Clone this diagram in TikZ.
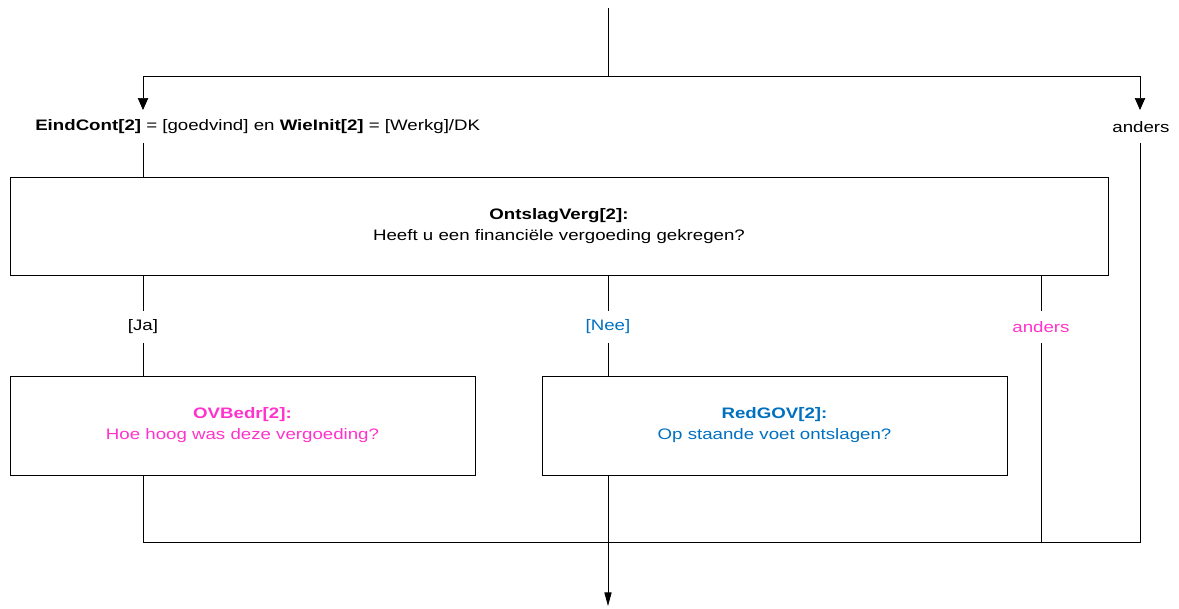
\documentclass[tikz,border=0pt]{standalone}
\usepackage{fontspec}
\setmainfont{Liberation Sans}[FakeStretch=1.23]
\usetikzlibrary{arrows.meta, positioning, calc}
\definecolor{askpink}{HTML}{FF33CC}
\definecolor{askblue}{HTML}{0070C0}

\begin{document}
\begin{tikzpicture}[
  x=0.025cm, y=-0.025cm,
  >={Triangle[length=3mm, width=2.6mm]},
  every node/.style={font=\fontsize{10.8}{15}\selectfont},
  qbox/.style={draw, line width=0.6pt, align=center, inner sep=0pt},
  lbl/.style={inner sep=0pt, minimum height=0.8cm},
  wire/.style={line width=0.5pt},
]

% Page frame
\useasboundingbox (0,0) rectangle (1179,608);

% ============ Entry and split ============
\coordinate (top) at (608,8);
\coordinate (split) at (608,76);
\coordinate (condtip) at (143,110);
\coordinate (elsetip) at (1140,110);

\node[lbl, anchor=west] (cond) at (35,127)
  {\textbf{EindCont[2]} = [goedvind] en \textbf{WieInit[2]} = [Werkg]/DK};
\node[lbl] (anders1) at (1141,127) {anders};

\draw[wire] (top) -- (split);
\draw[wire, ->] (split) -| (condtip);
\draw[wire, ->] (split) -| (elsetip);

% ============ Main question ============
\node[qbox, minimum width=1098*0.025cm, minimum height=98*0.025cm] (ontslag) at (559,226)
  {\textbf{OntslagVerg[2]:}\\Heeft u een financiële vergoeding gekregen?};

\draw[wire] (cond.south -| condtip) -- (condtip |- ontslag.north);

% Answer labels
\node[lbl] (ja) at (143,327) {[Ja]};
\node[lbl, text=askblue] (nee) at (608,327) {[Nee]};
\node[lbl, text=askpink] (anders2) at (1041,327) {anders};

\draw[wire] (ontslag.south -| ja) -- (ja.north);
\draw[wire] (ontslag.south -| nee) -- (nee.north);
\draw[wire] (ontslag.south -| anders2) -- (anders2.north);

% ============ Follow-up questions ============
\node[qbox, text=askpink, minimum width=465*0.025cm, minimum height=99*0.025cm] (ovbedr) at (242.5,425.5)
  {\textbf{OVBedr[2]:}\\Hoe hoog was deze vergoeding?};
\node[qbox, text=askblue, minimum width=465*0.025cm, minimum height=99*0.025cm] (redgov) at (774.5,425.5)
  {\textbf{RedGOV[2]:}\\Op staande voet ontslagen?};

\draw[wire] (ja.south) -- (ja |- ovbedr.north);
\draw[wire] (nee.south) -- (nee |- redgov.north);

% ============ Merge ============
\coordinate (mergeL) at (143,542);
\coordinate (mergeR) at (1140,542);
\coordinate (exit) at (608,606);

\draw[wire] (ovbedr.south -| ja) -- (mergeL) -- (mergeR) -- (anders1.south -| mergeR);
\draw[wire] (anders2.south) -- (anders2 |- mergeL);
\draw[wire] (redgov.south -| nee) -- (nee |- mergeL);
\draw[wire, -{Triangle[length=3.4mm, width=1.8mm]}] (nee |- mergeL) -- (exit);

\end{tikzpicture}
\end{document}
